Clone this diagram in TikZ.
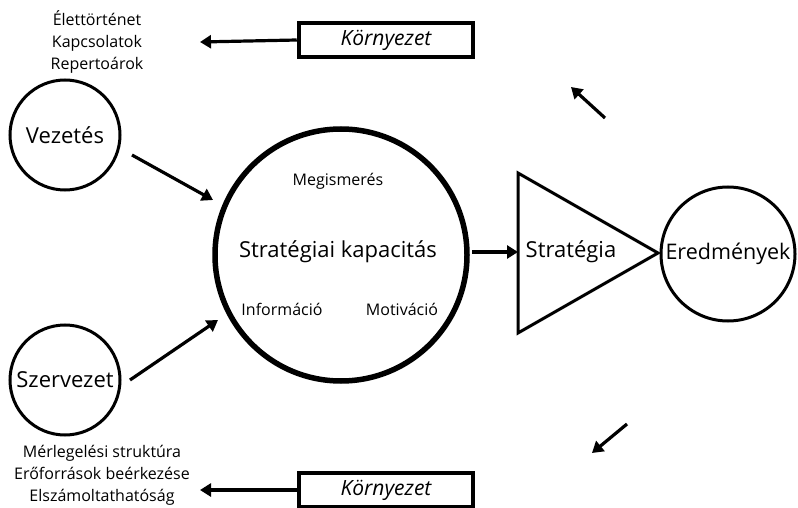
\documentclass[tikz,border=0pt]{standalone}
\usepackage{fontspec}
\setmainfont{Open Sans}
\usetikzlibrary{arrows.meta}
\begin{document}
\begin{tikzpicture}[x=1pt,y=-1pt,
  circ/.style={draw,circle,line width=3pt,inner sep=0pt},
  env/.style={draw,line width=4.5pt,minimum width=174pt,minimum height=34pt,inner sep=0pt,font=\fontsize{21}{24}\selectfont\itshape},
  arr/.style={line width=3.2pt,-{Triangle[length=11pt,width=13pt]}},
  big/.style={font=\fontsize{22}{26}\selectfont},
  small/.style={font=\fontsize{16}{22}\selectfont,align=center}]
\useasboundingbox (0,0) rectangle (798,508);
% left circles
\node[circ,minimum size=110pt,big] (vez) at (65,135) {Vezetés};
\node[circ,minimum size=110pt,big] (szer) at (65,380) {Szervezet};
% big circle
\node[circ,line width=5.5pt,minimum size=252pt] (kap) at (341,255) {};
\node[big] (kaptext) at (338,252) {Stratégiai kapacitás};
\node[small] (meg) at (338,181) {Megismerés};
\node[small] (inf) at (282,309) {Információ};
\node[small] (mot) at (402,309) {Motiváció};
% triangle
\coordinate (t1) at (518,173);
\coordinate (t2) at (518,333);
\coordinate (t3) at (658,253);
\draw[line width=3pt,line join=miter] (t1) -- (t3) -- (t2) -- cycle;
\node[big] (strat) at (571,252) {Stratégia};
% results
\node[circ,minimum size=134pt,font=\fontsize{21.5}{24}\selectfont] (ered) at (728,254) {Eredmények};
% environment boxes
\node[env] (env1) at (386,40) {Környezet};
\node[env] (env2) at (386,490) {Környezet};
% text lists
\node[small] (list1) at (97,42) {Élettörténet\\Kapcsolatok\\Repertoárok};
\node[small] (list2) at (102,475) {Mérlegelési struktúra\\Erőforrások beérkezése\\Elszámoltathatóság};
% arrows
\coordinate (l1) at (200,42);
\coordinate (l2) at (200,490);
\draw[arr] (env1.west) -- (l1);
\draw[arr] (env2.west) -- (l2);
\coordinate (va) at (132,155);
\coordinate (vb) at (213,200);
\draw[arr] (va) -- (vb);
\coordinate (sa) at (130,380);
\coordinate (sb) at (218,320);
\draw[arr] (sa) -- (sb);
\coordinate (ka) at (472,252);
\draw[arr] (ka) -- (t1 |- ka);
\coordinate (u1) at (605,118);
\coordinate (u2) at (571,87);
\draw[arr] (u1) -- (u2);
\coordinate (d1) at (627,424);
\coordinate (d2) at (592,453);
\draw[arr] (d1) -- (d2);
\end{tikzpicture}
\end{document}
